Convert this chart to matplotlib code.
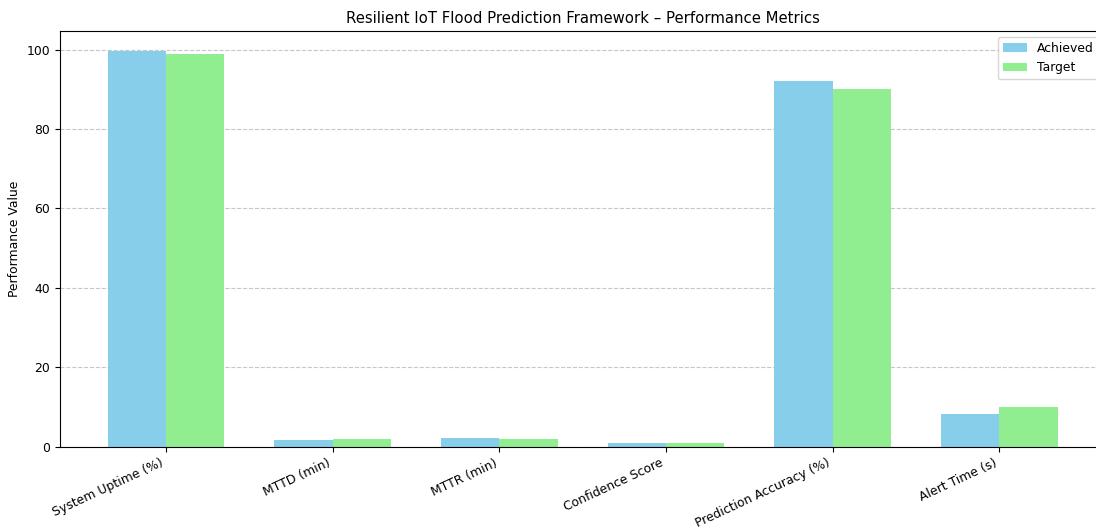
import numpy as np
import matplotlib
matplotlib.use('Agg')
import matplotlib.pyplot as plt

metrics = ['System Uptime (%)', 'MTTD (min)', 'MTTR (min)', 'Confidence Score',
           'Prediction Accuracy (%)', 'Alert Time (s)']
achieved = [99.7, 1.8, 2.1, 0.95, 92.0, 8.3]
target = [99.0, 2.0, 2.0, 0.9, 90.0, 10.0]

plt.rcParams['font.size'] = 8.9

x = np.arange(len(metrics))
w = 0.35

fig = plt.figure(figsize=(10.96, 5.27), dpi=100)
ax = fig.add_axes([60/1096, 1 - 446.7/527, 1045/1096, 415.7/527])
ax.bar(x - w/2, achieved, w, label='Achieved', color='skyblue')
ax.bar(x + w/2, target, w, label='Target', color='lightgreen')

ax.set_xticks(x)
ax.set_xticklabels(metrics, rotation=25, ha='right')
ax.set_ylabel('Performance Value')
ax.set_title('Resilient IoT Flood Prediction Framework – Performance Metrics')
ax.legend(loc='upper right')
ax.grid(axis='y', linestyle='--', alpha=0.7)
ax.set_axisbelow(True)

fig.savefig('out.png', dpi=100)
